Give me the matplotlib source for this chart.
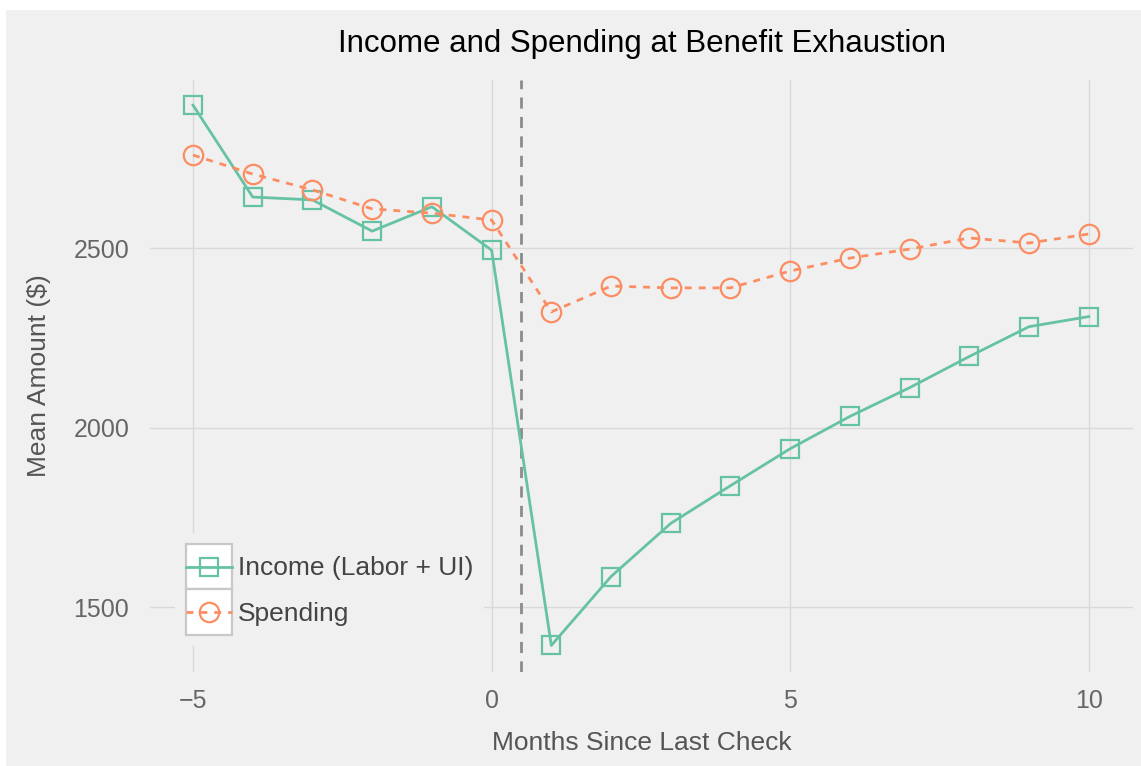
import matplotlib
matplotlib.use("Agg")
import matplotlib.pyplot as plt
from matplotlib.patches import Rectangle
from matplotlib.legend_handler import HandlerLine2D

# ---------------------------------------------------
# Data
# ---------------------------------------------------
months = [-5, -4, -3, -2, -1, 0, 1, 2, 3, 4, 5, 6, 7, 8, 9, 10]
income = [2898, 2642, 2634, 2547, 2615, 2494, 1393, 1585, 1733, 1838,
          1941, 2031, 2111, 2198, 2281, 2309]
spending = [2759, 2706, 2662, 2609, 2597, 2578, 2322, 2394, 2389, 2389,
            2436, 2472, 2497, 2528, 2514, 2539]
exhaustion_x = 0.5

BG = "#f0f0f0"
GRID = "#d9d9d9"
INCOME_COLOR = "#66c2a5"
SPEND_COLOR = "#fc8d62"

plt.rcParams["font.family"] = ["Liberation Sans", "DejaVu Sans"]


class BoxedKeyHandler(HandlerLine2D):
    """ggplot-style legend key: white box behind the line + marker."""

    def create_artists(self, legend, orig_handle, xdescent, ydescent,
                       width, height, fontsize, trans):
        box = Rectangle((-xdescent, -ydescent), width, height,
                        facecolor="white", edgecolor="#c8c8c8",
                        linewidth=1.6, transform=trans)
        artists = super().create_artists(legend, orig_handle, xdescent, ydescent,
                                         width, height, fontsize, trans)
        # centre the line/marker inside the key box
        for a in artists:
            a.set_ydata([y - ydescent / 2 for y in a.get_ydata()])
        return [box] + list(artists)


def main():
    fig = plt.figure(figsize=(11.41, 7.66), dpi=100)
    fig.patch.set_facecolor("white")
    fig.patches.append(Rectangle((6 / 1141, 0), 1, (766 - 10) / 766,
                                 transform=fig.transFigure, facecolor=BG,
                                 edgecolor="none", zorder=-10))

    ax = fig.add_axes([150 / 1141, 1 - 672 / 766, (1133 - 150) / 1141, (672 - 80) / 766])
    ax.set_facecolor(BG)
    for s in ax.spines.values():
        s.set_visible(False)

    ax.grid(True, color=GRID, linewidth=1.0)
    ax.set_axisbelow(True)

    ax.axvline(exhaustion_x, color="#8c8c8c", linestyle=(0, (4, 3)), linewidth=2, zorder=2)

    ax.plot(months, income, color=INCOME_COLOR, linewidth=2, linestyle="-",
            marker="s", markersize=13, markerfacecolor="none",
            markeredgecolor=INCOME_COLOR, markeredgewidth=1.6,
            label="Income (Labor + UI)", zorder=3)
    ax.plot(months, spending, color=SPEND_COLOR, linewidth=2, linestyle=(0, (2.5, 2.5)),
            marker="o", markersize=14, markerfacecolor="none",
            markeredgecolor=SPEND_COLOR, markeredgewidth=1.6,
            label="Spending", zorder=3)

    ax.set_xlim(-5.72, 10.74)
    ax.set_ylim(1319, 2968)
    ax.set_xticks([-5, 0, 5, 10])
    ax.set_xticklabels(["\u22125", "0", "5", "10"])
    ax.set_yticks([1500, 2000, 2500])
    ax.tick_params(length=0, labelsize=18, labelcolor="#666666")
    ax.tick_params(axis="y", pad=15)
    ax.tick_params(axis="x", pad=12)

    ax.set_title("Income and Spending at Benefit Exhaustion", fontsize=22.5,
                 color="black", pad=20)
    ax.set_xlabel("Months Since Last Check", fontsize=19, color="#555555", labelpad=13)
    ax.set_ylabel("Mean Amount ($)", fontsize=19, color="#555555", labelpad=16)

    leg = ax.legend(loc="upper left",
                    bbox_to_anchor=(25 / 983, 1 - (533 - 80) / 592),
                    fontsize=19, frameon=True, facecolor=BG, edgecolor="none",
                    framealpha=1, borderpad=0.4, borderaxespad=0,
                    handlelength=1.75, handleheight=2.3, labelspacing=0.0,
                    handletextpad=0.25, labelcolor="#444444",
                    handler_map={plt.Line2D: BoxedKeyHandler()})
    leg.set_zorder(5)

    fig.savefig("out.png", dpi=100, facecolor=fig.get_facecolor())


if __name__ == "__main__":
    main()
